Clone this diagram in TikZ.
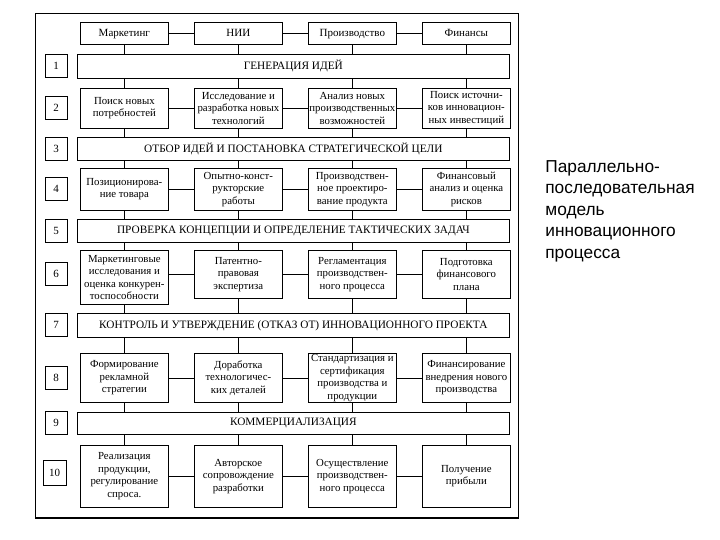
\documentclass[tikz,border=0pt]{standalone}
\usepackage{fontspec}
\setmainfont{Liberation Serif}
\newfontfamily\sansfont{Liberation Sans}

\begin{document}
\begin{tikzpicture}[x=1pt,y=-1pt,line width=0.7pt,
    box/.style={draw,anchor=north west,minimum width=88pt,inner xsep=1pt,
      inner ysep=0.5pt,align=center,font=\fontsize{10.8}{12.5}\selectfont},
    head/.style={box,minimum height=22pt,text height=8pt,text depth=2.5pt,
      font=\fontsize{11}{13}\selectfont},
    stage/.style={draw,anchor=north west,minimum width=432pt,inner sep=1pt,
      font=\fontsize{11.3}{13}\selectfont},
    num/.style={draw,minimum width=22pt,minimum height=23pt,inner sep=0pt,
      font=\fontsize{11}{13}\selectfont}]
    \useasboundingbox (0,0) rectangle (720,540);

    \draw (35,13) rectangle (518,518);
    \draw[line width=1.6pt] (35,518) -- (518,518);

    \node[head] (mark) at (80,22) {Маркетинг};
    \node[head] (nii) at (194,22) {НИИ};
    \node[head] (proizv) at (308,22) {Производство};
    \node[head] (fin) at (422,22) {Финансы};
    \draw (mark) -- (nii) (nii) -- (proizv) (proizv) -- (fin);

    \node[stage,minimum height=24pt] (s1) at (77,54) {ГЕНЕРАЦИЯ ИДЕЙ};
    \node[stage,minimum height=23pt] (s3) at (77,137)
      {ОТБОР ИДЕЙ И ПОСТАНОВКА СТРАТЕГИЧЕСКОЙ ЦЕЛИ};
    \node[stage,minimum height=23pt] (s5) at (77,219)
      {ПРОВЕРКА КОНЦЕПЦИИ И ОПРЕДЕЛЕНИЕ ТАКТИЧЕСКИХ ЗАДАЧ};
    \node[stage,minimum height=24pt] (s7) at (77,313)
      {КОНТРОЛЬ И УТВЕРЖДЕНИЕ (ОТКАЗ ОТ) ИННОВАЦИОННОГО ПРОЕКТА};
    \node[stage,minimum height=22pt] (s9) at (77,412) {КОММЕРЦИАЛИЗАЦИЯ};

    \node[num] (n1) at (56,66) {1};
    \node[num] (n2) at (56,108) {2};
    \node[num] (n3) at (56,148.5) {3};
    \node[num] (n4) at (56,189) {4};
    \node[num] (n5) at (56,230.5) {5};
    \node[num] (n6) at (56,274) {6};
    \node[num] (n7) at (56,325) {7};
    \node[num] (n8) at (56,377.5) {8};
    \node[num] (n9) at (56,423) {9};
    \node[num,minimum width=23pt,minimum height=25pt] (n10) at (54.5,472.5) {10};

    \node[box,minimum height=40pt] (r2a) at (80,88) {Поиск новых\\потребностей};
    \node[box,minimum height=40pt] (r2b) at (194,88)
      {Исследование и\\разработка новых\\технологий};
    \node[box,minimum height=40pt] (r2c) at (308,88)
      {Анализ новых\\производственных\\возможностей};
    \node[box,minimum height=40pt] (r2d) at (422,88)
      {Поиск источни-\\ков инновацион-\\ных инвестиций};

    \node[box,minimum height=42pt] (r4a) at (80,168) {Позиционирова-\\ние товара};
    \node[box,minimum height=42pt] (r4b) at (194,168)
      {Опытно-конст-\\рукторские\\работы};
    \node[box,minimum height=42pt] (r4c) at (308,168)
      {Производствен-\\ное проектиро-\\вание продукта};
    \node[box,minimum height=42pt] (r4d) at (422,168)
      {Финансовый\\анализ и оценка\\рисков};

    \node[box,minimum height=54pt] (r6a) at (80,250)
      {Маркетинговые\\исследования и\\оценка конкурен-\\тоспособности};
    \node[box,minimum height=48pt] (r6b) at (194,250)
      {Патентно-\\правовая\\экспертиза};
    \node[box,minimum height=48pt] (r6c) at (308,250)
      {Регламентация\\производствен-\\ного процесса};
    \node[box,minimum height=48pt] (r6d) at (422,250)
      {Подготовка\\финансового\\плана};

    \node[box,minimum height=49pt] (r8a) at (80,353)
      {Формирование\\рекламной\\стратегии};
    \node[box,minimum height=49pt] (r8b) at (194,353)
      {Доработка\\технологичес-\\ких деталей};
    \node[box,minimum height=49pt] (r8c) at (308,353)
      {Стандартизация и\\сертификация\\производства и\\продукции};
    \node[box,minimum height=49pt] (r8d) at (422,353)
      {Финансирование\\внедрения нового\\производства};

    \node[box,minimum height=62pt] (r10a) at (80,445)
      {Реализация\\продукции,\\регулирование\\спроса.};
    \node[box,minimum height=62pt] (r10b) at (194,445)
      {Авторское\\сопровождение\\разработки};
    \node[box,minimum height=62pt] (r10c) at (308,445)
      {Осуществление\\производствен-\\ного процесса};
    \node[box,minimum height=62pt] (r10d) at (422,445) {Получение\\прибыли};

    \draw (mark) -- (mark |- s1.north) (nii) -- (nii |- s1.north)
      (proizv) -- (proizv |- s1.north) (fin) -- (fin |- s1.north);

    \draw (r2a |- s1.south) -- (r2a) (r2a) -- (r2a |- s3.north)
      (r2b |- s1.south) -- (r2b) (r2b) -- (r2b |- s3.north)
      (r2c |- s1.south) -- (r2c) (r2c) -- (r2c |- s3.north)
      (r2d |- s1.south) -- (r2d) (r2d) -- (r2d |- s3.north);
    \draw (r2a) -- (r2b) (r2b) -- (r2c) (r2c) -- (r2d);

    \draw (r4a |- s3.south) -- (r4a) (r4a) -- (r4a |- s5.north)
      (r4b |- s3.south) -- (r4b) (r4b) -- (r4b |- s5.north)
      (r4c |- s3.south) -- (r4c) (r4c) -- (r4c |- s5.north)
      (r4d |- s3.south) -- (r4d) (r4d) -- (r4d |- s5.north);
    \draw (r4a) -- (r4b) (r4b) -- (r4c) (r4c) -- (r4d);

    \draw (r6a |- s5.south) -- (r6a) (r6a) -- (r6a |- s7.north)
      (r6b |- s5.south) -- (r6b) (r6b) -- (r6b |- s7.north)
      (r6c |- s5.south) -- (r6c) (r6c) -- (r6c |- s7.north)
      (r6d |- s5.south) -- (r6d) (r6d) -- (r6d |- s7.north);
    \draw (r6a.east |- r6b) -- (r6b) (r6b) -- (r6c) (r6c) -- (r6d);

    \draw (r8a |- s7.south) -- (r8a) (r8a) -- (r8a |- s9.north)
      (r8b |- s7.south) -- (r8b) (r8b) -- (r8b |- s9.north)
      (r8c |- s7.south) -- (r8c) (r8c) -- (r8c |- s9.north)
      (r8d |- s7.south) -- (r8d) (r8d) -- (r8d |- s9.north);
    \draw (r8a) -- (r8b) (r8b) -- (r8c) (r8c) -- (r8d);

    \draw (r10a |- s9.south) -- (r10a) (r10b |- s9.south) -- (r10b)
      (r10c |- s9.south) -- (r10c) (r10d |- s9.south) -- (r10d);
    \draw (r10a) -- (r10b) (r10b) -- (r10c) (r10c) -- (r10d);

    \node[anchor=north west,inner sep=0pt,align=left,
      font=\sansfont\fontsize{17.3}{21.5}\selectfont] (title) at (545,160)
      {Параллельно-\\последовательная\\модель\\инновационного\\процесса};
\end{tikzpicture}
\end{document}
